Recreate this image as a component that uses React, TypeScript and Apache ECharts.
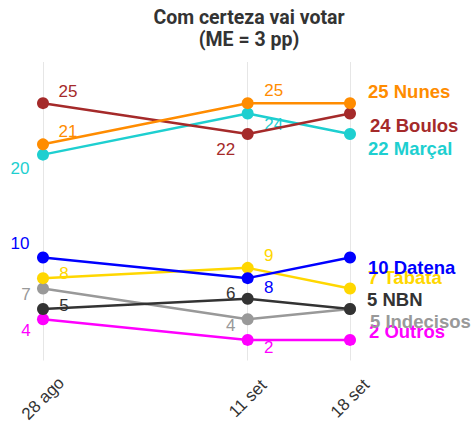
import React, { useEffect, useRef } from "react";
import * as echarts from "echarts";

const dateLabels = ["28 ago", "11 set", "18 set"];
const dayOffsets = [0, 14, 21];

const names = ["Nunes", "Boulos", "Marçal", "Datena", "Tabata", "NBN", "Indecisos", "Outros"];
const nunes = [21, 25, 25];
const boulos = [25, 22, 24];
const marcal = [20, 24, 22];
const datena = [10, 8, 10];
const tabata = [8, 9, 7];
const nbn = [5, 6, 5];
const indecisos = [7, 4, 5];
const outros = [4, 2, 2];
const seriesValues = [nunes, boulos, marcal, datena, tabata, nbn, indecisos, outros];

const colors = ["#FF8C00", "#A52A2A", "#1ECFD0", "#0000FF", "#FFD700", "#333333", "#999999", "#FF00FF"];

// label offsets (dx, dy) for the first two points of each series
const pointLabelOffsets = [
  [[25, -13], [26, -13]],
  [[25, -12], [-22, 15]],
  [[-23, 14], [26, 11]],
  [[-23, -14], [21, 9]],
  [[21, -5], [21, -12]],
  [[21, -4], [-17, -5]],
  [[-17, 6], [-17, 6]],
  [[-17, 11], [21, 8]],
];
const endLabelOffsets = [
  [18, -12],
  [20, 12],
  [18, 14],
  [18, 10],
  [18, -11],
  [17, -10],
  [20, 12],
  [19, -8],
];

export default function App() {
  const ref = useRef<HTMLDivElement>(null);
  useEffect(() => {
    if (!ref.current) return;
    const chart = echarts.init(ref.current, null, { renderer: "svg" });
    const series = names.map((name, si) => ({
      name,
      type: "line",
      data: seriesValues[si].map((v, i) => ({
        value: [dayOffsets[i], v],
        label:
          i < 2
            ? {
                show: true,
                position: "inside",
                align: "center",
                verticalAlign: "middle",
                offset: pointLabelOffsets[si][i],
              }
            : { show: false },
      })),
      color: colors[si],
      symbol: "circle",
      symbolSize: 12,
      lineStyle: { width: 2.5, color: colors[si] },
      itemStyle: { color: colors[si] },
      label: {
        color: colors[si],
        fontSize: 17,
        fontFamily: "Liberation Sans",
      },
      endLabel: {
        show: true,
        distance: 0,
        offset: endLabelOffsets[si],
        formatter: (p: any) => `${p.value[1]} ${name}`,
        color: colors[si],
        fontSize: 18.5,
        fontWeight: "bold",
        fontFamily: "Liberation Sans",
        align: "left",
        verticalAlign: "middle",
      },
      emphasis: { disabled: true },
      z: 10 - si,
    }));
    chart.setOption({
      animation: false,
      graphic: [
        {
          type: "text",
          x: 249,
          y: 6,
          style: {
            text: "Com certeza vai votar\n(ME = 3 pp)",
            textAlign: "center",
            textVerticalAlign: "top",
            fontFamily: "Roboto",
            fontWeight: "bold",
            fontSize: 19.5,
            lineHeight: 22,
            fill: "#333333",
          },
        },
      ],
      grid: { left: 43, right: 124, top: 62, bottom: 62, containLabel: false },
      xAxis: {
        type: "value",
        min: 0,
        max: 21,
        axisLine: { show: false },
        axisTick: { show: false, customValues: dayOffsets },
        splitLine: { show: true, lineStyle: { color: "#E6E6E6", width: 1 } },
        axisLabel: {
          customValues: dayOffsets,
          rotate: 45,
          align: "center",
          verticalAlign: "middle",
          margin: 38,
          fontSize: 17,
          fontFamily: "Liberation Sans",
          color: "#333333",
          formatter: (v: number) => dateLabels[dayOffsets.indexOf(v)] ?? "",
        },
      },
      yAxis: {
        type: "value",
        min: 0,
        max: 29,
        show: false,
        splitLine: { show: false },
      },
      series,
    });
    return () => chart.dispose();
  }, []);
  return (
    <div
      ref={ref}
      style={{ position: "fixed", left: 0, top: 0, width: 474, height: 425, background: "#fff" }}
    />
  );
}
